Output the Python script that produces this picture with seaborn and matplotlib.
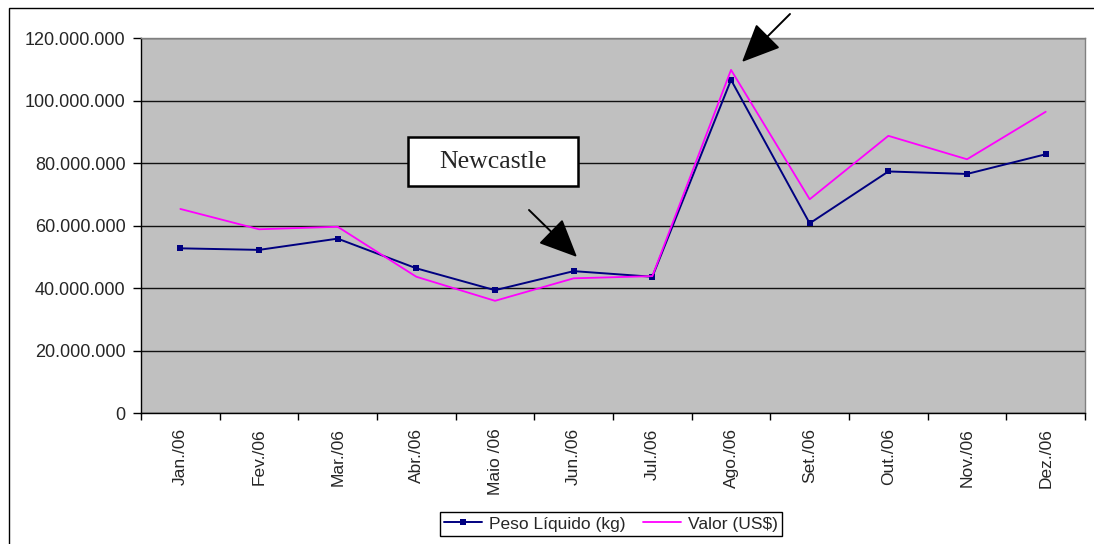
import matplotlib.pyplot as plt
import matplotlib.patches as patches
from matplotlib.ticker import FixedLocator, FuncFormatter
import pandas as pd
import seaborn as sns

# -------------------------------------------------------
# monthly data
months = ['Jan./06', 'Fev./06', 'Mar./06', 'Abr./06', 'Maio /06', 'Jun./06',
          'Jul./06', 'Ago./06', 'Set./06', 'Out./06', 'Nov./06', 'Dez./06']
peso_liquido = [52.7e6, 52.2e6, 55.8e6, 46.3e6, 39.3e6, 45.4e6,
                43.6e6, 106.6e6, 60.7e6, 77.3e6, 76.5e6, 82.8e6]
valor_usd = [65.3e6, 58.8e6, 59.6e6, 43.6e6, 35.9e6, 43.1e6,
             43.8e6, 109.8e6, 68.4e6, 88.7e6, 81.2e6, 96.4e6]
y_ticks = [0, 20e6, 40e6, 60e6, 80e6, 100e6, 120e6]

df = pd.DataFrame({'mes': months, 'peso': peso_liquido, 'valor': valor_usd})

sns.set_style('white')
plt.rcParams['font.family'] = ['Liberation Sans', 'DejaVu Sans']

# -------------------------------------------------------
# creating the chart
fig = plt.figure(figsize=(10.94, 5.44), dpi=100)
ax = fig.add_axes([0.1289, 0.2408, 0.8629, 0.6893])
ax.set_facecolor('#c0c0c0')

sns.lineplot(data=df, x='mes', y='peso', ax=ax, color='#000080', linewidth=1.4,
             marker='s', markersize=5, markeredgewidth=0, label='Peso Líquido (kg)')
sns.lineplot(data=df, x='mes', y='valor', ax=ax, color='#ff00ff', linewidth=1.3,
             label='Valor (US$)')

# y axis format
ax.set_ylim(0, 120e6)
ax.yaxis.set_major_locator(FixedLocator(y_ticks))
ax.yaxis.set_major_formatter(FuncFormatter(lambda v, pos: f"{int(v):,}".replace(',', '.')))
ax.grid(axis='y', color='#111111', linewidth=1)
ax.tick_params(axis='y', direction='out', length=6, width=1, color='black', pad=5,
               labelsize=13, left=True)
ax.set_ylabel('')

# x axis format: ticks between categories, labels at the centers
n = len(months)
ax.set_xlim(-0.5, n - 0.5)
ax.xaxis.set_major_locator(FixedLocator([i - 0.5 for i in range(n + 1)]))
ax.xaxis.set_minor_locator(FixedLocator(list(range(n))))
ax.set_xticklabels([], minor=False)
ax.set_xticklabels(months, minor=True, rotation=90, fontsize=12.5)
ax.tick_params(axis='x', which='major', direction='out', length=5, width=1,
               color='black', bottom=True)
ax.tick_params(axis='x', which='minor', length=0, pad=11)
ax.set_xlabel('')

for side in ['left', 'bottom']:
    ax.spines[side].set_color('black')
    ax.spines[side].set_linewidth(1)
for side in ['top', 'right']:
    ax.spines[side].set_color('#808080')
    ax.spines[side].set_linewidth(1)

# legend under the plot
ax.get_legend().remove()
handles, labels = ax.get_legend_handles_labels()
leg = fig.legend(handles, labels, loc='center', bbox_to_anchor=(0.5585, 0.0368), ncol=2,
                 fancybox=False, edgecolor='black', framealpha=1, fontsize=12.5,
                 handlelength=2.2, handletextpad=0.4, columnspacing=1.0,
                 borderpad=0.25, markerscale=0.8)
leg.get_frame().set_linewidth(1)

# Newcastle callout box
fig.patches.append(patches.Rectangle((0.3729, 0.6581), 0.1554, 0.0901, transform=fig.transFigure,
                                     facecolor='white', edgecolor='black', linewidth=1.8, zorder=5))
fig.text(0.4506, 0.7031, 'Newcastle', ha='center', va='center', fontsize=18.5,
         family=['Liberation Serif', 'DejaVu Serif'], zorder=6)

# arrows
arrow_style = dict(arrowstyle='-|>,head_length=1.0,head_width=0.45', color='black',
                   linewidth=1.4, mutation_scale=24, shrinkA=0, shrinkB=0)
ax.annotate('', xy=(577, 287), xycoords='figure pixels', xytext=(529, 334),
            textcoords='figure pixels', arrowprops=arrow_style, annotation_clip=False)
ax.annotate('', xy=(742, 482), xycoords='figure pixels', xytext=(790, 530),
            textcoords='figure pixels', arrowprops=arrow_style, annotation_clip=False)

# outer chart border
fig.patches.append(patches.Rectangle((9 / 1094, -0.1), 1.2, 1.1 - 8 / 544, transform=fig.transFigure,
                                     facecolor='none', edgecolor='black', linewidth=1))

fig.savefig('out.png', dpi=100, facecolor='white')
